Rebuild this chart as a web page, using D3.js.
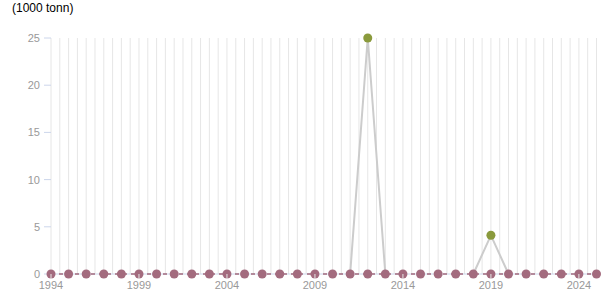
<!DOCTYPE html>
<html>
<head>
<meta charset="utf-8">
<script src="https://cdn.jsdelivr.net/npm/d3@7"></script>
<style>
  body { margin: 0; background: #fff; }
  text { font-family: "Liberation Sans", Arial, sans-serif; }
</style>
</head>
<body>
<div id="chart"></div>
<script>
// data
const years = d3.range(1994, 2026);
const tickYears = [1994, 1999, 2004, 2009, 2014, 2019, 2024];
const yTicks = [0, 5, 10, 15, 20, 25];
// series A (grey line, green markers) - only a few years reported
const seriesA = [
  { year: 2011, value: 0 }, { year: 2012, value: 25 }, { year: 2013, value: 0 },
  null,
  { year: 2018, value: 0 }, { year: 2019, value: 4.1 }, { year: 2020, value: 0 }
];
// series B (dashed, pink markers) - zero every year
const seriesB = years.map(y => ({ year: y, value: 0 }));

const width = 615, height = 305;
const svg = d3.select('#chart').append('svg')
  .attr('width', width)
  .attr('height', height);

const x = d3.scaleLinear().domain([1994, 2025]).range([51, 596.5]);
const y = d3.scaleLinear().domain([0, 25]).range([274, 38]);

// title
svg.append('text')
  .attr('x', 12).attr('y', 12)
  .style('font-size', '12px')
  .style('fill', '#000')
  .text('(1000 tonn)');

// vertical grid every half year
const halfYears = d3.range(1994, 2025.01, 0.5);
svg.append('g').selectAll('line')
  .data(halfYears)
  .enter().append('line')
  .attr('x1', d => x(d)).attr('x2', d => x(d))
  .attr('y1', y(25)).attr('y2', y(0))
  .style('stroke', '#e6e6e6')
  .style('stroke-width', 1);

// y axis ticks + labels
const yAxis = svg.append('g');
yAxis.selectAll('line')
  .data(yTicks).enter().append('line')
  .attr('x1', 44).attr('x2', 51)
  .attr('y1', d => y(d)).attr('y2', d => y(d))
  .style('stroke', '#ccd6eb');
yAxis.selectAll('text')
  .data(yTicks).enter().append('text')
  .attr('x', 40).attr('y', d => y(d) + 4)
  .attr('text-anchor', 'end')
  .style('font-size', '11px')
  .style('fill', '#999')
  .text(d => d);

// x axis line
svg.append('line')
  .attr('x1', 51).attr('x2', 596.5)
  .attr('y1', y(0)).attr('y2', y(0))
  .style('stroke', '#ccd6eb');

// series A line
const line = d3.line()
  .defined(d => d !== null)
  .x(d => x(d.year))
  .y(d => y(d.value));

svg.append('path')
  .datum(seriesA)
  .attr('d', line)
  .style('fill', 'none')
  .style('stroke', '#cccccc')
  .style('stroke-width', 2);

// series B dashed line
svg.append('path')
  .datum(seriesB)
  .attr('d', line)
  .style('fill', 'none')
  .style('stroke', '#a36b7e')
  .style('stroke-width', 1.5)
  .style('stroke-dasharray', '4,4');

// series B markers
svg.append('g').selectAll('circle')
  .data(seriesB).enter().append('circle')
  .attr('cx', d => x(d.year))
  .attr('cy', d => y(d.value))
  .attr('r', 4.5)
  .style('fill', '#a36b7e');

// series A markers (non-zero only)
svg.append('g').selectAll('circle')
  .data(seriesA.filter(d => d && d.value > 0)).enter().append('circle')
  .attr('cx', d => x(d.year))
  .attr('cy', d => y(d.value))
  .attr('r', 4.5)
  .style('fill', '#8a9a3c');

// x ticks (drawn on top) + labels
const xAxis = svg.append('g');
xAxis.selectAll('line')
  .data(tickYears).enter().append('line')
  .attr('x1', d => x(d)).attr('x2', d => x(d))
  .attr('y1', y(0)).attr('y2', y(0) + 5)
  .style('stroke', '#e6e6e6');
xAxis.selectAll('text')
  .data(tickYears).enter().append('text')
  .attr('x', d => x(d)).attr('y', 289)
  .attr('text-anchor', 'middle')
  .style('font-size', '11px')
  .style('fill', '#999')
  .text(d => d);
</script>
</body>
</html>
